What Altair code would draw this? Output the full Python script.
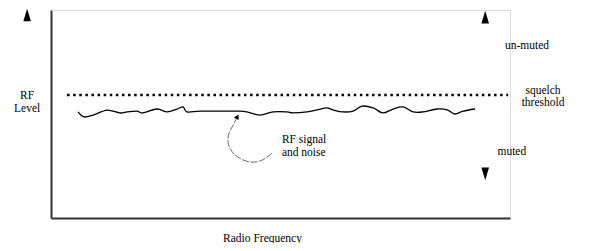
import altair as alt
import pandas as pd

# --- data (diagram units: frequency 0-100, RF level 0-100) ---
wave_x = [5.9, 7.2, 9.2, 12.2, 15.0, 16.6, 18.7, 20.0, 23.1, 25.3, 27.5, 28.8, 29.6,
          32.5, 36.8, 41.2, 42.7, 45.5, 48.4, 51.4, 52.7, 55.8, 58.0, 60.1, 61.4,
          63.6, 65.8, 67.8, 70.2, 72.3, 74.5, 76.7, 78.9, 81.0, 84.1, 86.3, 88.0,
          89.8, 92.4]
wave_y = [51.0, 48.6, 49.5, 51.9, 50.5, 51.0, 51.4, 50.5, 52.4, 51.0, 52.4, 53.4, 51.0,
          51.4, 51.4, 51.4, 51.0, 49.5, 51.0, 51.0, 50.5, 51.0, 52.0, 52.9, 52.0,
          51.0, 51.4, 53.8, 52.9, 50.5, 52.4, 53.4, 51.0, 51.0, 52.4, 52.0, 50.0,
          51.4, 52.4]

threshold_level = 59.1
threshold_x = [3.5, 99.6]

curve_x = [40.6, 39.7, 38.8, 38.6, 39.5, 41.2, 43.4, 45.5, 47.3, 48.4]
curve_y = [48.7, 44.7, 40.9, 36.1, 31.7, 28.6, 26.9, 27.4, 29.6, 31.7]

up_x = [-5.2, 94.6]
up_y = [97.6, 96.6]
down_x = [94.6]
down_y = [21.2]

label_text = ["un-muted", "squelch", "threshold", "muted", "RF", "Level"]
label_x = [103.7, 107.2, 107.2, 100.4, -5.2, -5.2]
label_y = [82.7, 61.1, 55.3, 31.7, 58.7, 52.4]

note_text = ["RF signal", "and noise"]
note_x = [50.3, 50.3]
note_y = [37.5, 31.2]

FONT = "Liberation Serif"

xs = alt.Scale(domain=[0, 100], nice=False, zero=False)
ys = alt.Scale(domain=[0, 100], nice=False, zero=False)

base_x_axis = alt.Axis(title="Radio Frequency", ticks=False, labels=False, grid=False,
                       domainColor="#333", domainWidth=2, titleFont=FONT,
                       titleFontSize=11.5, titleFontWeight="normal", titleColor="#000",
                       titleX=211, titleY=20, titleBaseline="middle")
base_y_axis = alt.Axis(title=None, ticks=False, labels=False, grid=False,
                       domainColor="#333", domainWidth=2)

wave_df = pd.DataFrame({"x": wave_x, "y": wave_y})
wave = alt.Chart(wave_df).mark_line(color="#000", strokeWidth=1.3, interpolate="cardinal").encode(
    x=alt.X("x:Q", scale=xs, axis=base_x_axis),
    y=alt.Y("y:Q", scale=ys, axis=base_y_axis),
)

thr_df = pd.DataFrame({"x": threshold_x, "y": [threshold_level] * 2})
thr = alt.Chart(thr_df).mark_line(color="#000", strokeWidth=2.5, strokeDash=[2.5, 3.6]).encode(
    x=alt.X("x:Q", scale=xs), y=alt.Y("y:Q", scale=ys))

curve_df = pd.DataFrame({"x": curve_x, "y": curve_y, "o": list(range(len(curve_x)))})
curve = alt.Chart(curve_df).mark_line(color="#444", strokeWidth=0.8, strokeDash=[7, 1.5],
                                      interpolate="cardinal").encode(
    x=alt.X("x:Q", scale=xs), y=alt.Y("y:Q", scale=ys), order="o:Q")

head = alt.Chart(pd.DataFrame({"x": [curve_x[0]], "y": [curve_y[0]]})).mark_point(
    shape="triangle-up", filled=True, color="#000", size=30, angle=27, opacity=1).encode(
    x=alt.X("x:Q", scale=xs), y=alt.Y("y:Q", scale=ys))

up = alt.Chart(pd.DataFrame({"x": up_x, "y": up_y})).mark_point(
    shape="M-0.6,1L0.6,1L0,-1Z", filled=True, color="#000", strokeWidth=0,
    size=160, opacity=1).encode(x=alt.X("x:Q", scale=xs), y=alt.Y("y:Q", scale=ys))
down = alt.Chart(pd.DataFrame({"x": down_x, "y": down_y})).mark_point(
    shape="M-0.6,-1L0.6,-1L0,1Z", filled=True, color="#000", strokeWidth=0,
    size=160, opacity=1).encode(x=alt.X("x:Q", scale=xs), y=alt.Y("y:Q", scale=ys))

lab_df = pd.DataFrame({"t": label_text, "x": label_x, "y": label_y})
labels = alt.Chart(lab_df).mark_text(font=FONT, fontSize=11.5, color="#000", align="center",
                                     baseline="middle").encode(
    x=alt.X("x:Q", scale=xs), y=alt.Y("y:Q", scale=ys), text="t:N")

note_df = pd.DataFrame({"t": note_text, "x": note_x, "y": note_y})
notes = alt.Chart(note_df).mark_text(font=FONT, fontSize=11.5, color="#000", align="left",
                                     baseline="middle").encode(
    x=alt.X("x:Q", scale=xs), y=alt.Y("y:Q", scale=ys), text="t:N")

chart = alt.layer(wave, thr, curve, head, up, down, labels, notes).properties(
    width=459, height=208,
    autosize=alt.AutoSizeParams(type="none"),
    padding={"left": 43, "top": 2, "right": 80, "bottom": 25},
).configure_view(stroke=None).configure(background="white")

chart.save("out.html", embed_options={"renderer": "svg", "actions": False})
